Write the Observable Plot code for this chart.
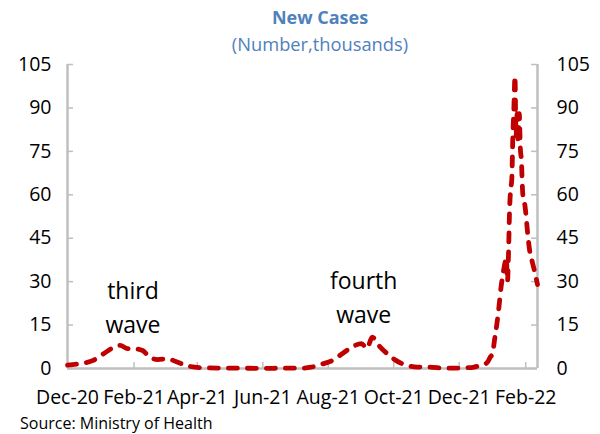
<!DOCTYPE html>
<html><head><meta charset="utf-8">
<script src="https://cdn.jsdelivr.net/npm/d3@7"></script>
<script src="https://cdn.jsdelivr.net/npm/@observablehq/plot@0.6"></script>
<style>
body{margin:0;background:#fff;font-family:"Open Sans",sans-serif;}
#wrap{width:600px;height:434px;position:relative;overflow:hidden;}
.title{color:#4f81bd;text-align:center;font-size:18px;font-weight:bold;height:28px;line-height:28px;padding-top:3px;padding-left:40px;}
.subtitle{color:#4f81bd;text-align:center;font-size:18.3px;height:26px;line-height:26px;padding-left:40px;}
#chart svg{display:block;}
.source{font-size:16px;height:22px;line-height:22px;padding-left:20px;color:#000;}
</style>
</head><body>
<div id="wrap">
  <div class="title">New Cases</div>
  <div class="subtitle">(Number,thousands)</div>
  <div id="chart"></div>
  <div class="source">Source: Ministry of Health</div>
</div>
<script>
// Data (thousands of new cases)
const dates = [
"2020-12-01","2020-12-13","2020-12-25","2021-01-04","2021-01-13","2021-01-19","2021-01-26","2021-02-02","2021-02-09","2021-02-16","2021-02-23","2021-03-04","2021-03-12","2021-03-23","2021-04-04","2021-04-20","2021-05-10","2021-06-01","2021-06-20",
"2021-07-06","2021-07-16","2021-07-27","2021-08-05","2021-08-14","2021-08-24","2021-09-01","2021-09-06","2021-09-11","2021-09-17","2021-09-25","2021-10-03","2021-10-14","2021-10-23",
"2021-11-01","2021-11-20","2021-12-05","2021-12-15","2021-12-20","2021-12-25","2021-12-28","2021-12-30",
"2022-01-01","2022-01-03","2022-01-05","2022-01-07","2022-01-09","2022-01-11","2022-01-13","2022-01-14","2022-01-15","2022-01-16","2022-01-17","2022-01-18","2022-01-19","2022-01-20","2022-01-21","2022-01-22","2022-01-23","2022-01-24","2022-01-25","2022-01-26","2022-01-27","2022-01-28","2022-01-29","2022-01-30","2022-01-31",
"2022-02-01","2022-02-03","2022-02-05","2022-02-07","2022-02-09","2022-02-12"];
const values = [
1.2,1.7,2.8,5.2,7.3,8.0,6.9,6.8,6.2,3.8,3.1,3.4,2.4,0.9,0.3,0.15,0.1,0.05,0.1,
0.1,0.45,1.6,2.8,5.1,7.6,8.6,6.9,10.8,8.0,5.1,2.8,1.0,0.5,
0.5,0.1,0.2,0.5,1.0,1.5,2.5,4,
5,10,15,21,28,33,37,38,30,40,55,62,65,80,90,101,80,88,78,88,76,72,62,58,57,
54,46,40,37,34,29];
const xDomain = ["2020-12-01","2022-02-12"];
const xTicks = ["2020-12-01","2021-02-01","2021-04-01","2021-06-01","2021-08-01","2021-10-01","2021-12-01","2022-02-01"];
const yTicks = [0,15,30,45,60,75,90,105];
const annotations = [
  {label:"third\nwave", date:"2021-01-31", value:21.8},
  {label:"fourth\nwave", date:"2021-09-03", value:25.3}
];

const parse = s => new Date(s + "T00:00:00Z");
const data = dates.map((d,i)=>({date: parse(d), value: values[i]}));
const xDom = xDomain.map(parse);
const xTickDates = xTicks.map(parse);

const W = 600, H = 355, ML = 67, MR = 63, MT = 7, MB = 44;
const PW = W - ML - MR, PH = H - MT - MB;
const axisColor = "#bfbfbf";
const FS = 19.5;

const chart = Plot.plot({
  width: W, height: H,
  marginLeft: ML, marginRight: MR, marginTop: MT, marginBottom: MB,
  style: {fontFamily: "'Open Sans', sans-serif", fontSize: FS + "px", color: "#000", background: "#fff", overflow: "visible"},
  x: {type: "utc", domain: xDom},
  y: {domain: [0, 105]},
  marks: [
    Plot.tickY(yTicks, {y: d => d, insetRight: PW - 6, stroke: axisColor, strokeWidth: 1.5}),
    Plot.tickY(yTicks, {y: d => d, insetLeft: PW - 6, stroke: axisColor, strokeWidth: 1.5}),
    Plot.tickX(xTickDates, {x: d => d, insetTop: PH - 6, stroke: axisColor, strokeWidth: 1.5}),
    Plot.ruleX(xDom, {x: d => d, stroke: axisColor, strokeWidth: 2.5}),
    Plot.ruleY([0], {stroke: axisColor, strokeWidth: 2.5}),
    Plot.axisY({anchor: "left", ticks: yTicks, tickSize: 0, tickPadding: 16, label: null, fontSize: FS}),
    Plot.axisY({anchor: "right", ticks: yTicks, tickSize: 0, tickPadding: 19, label: null, fontSize: FS}),
    Plot.axisX({anchor: "bottom", ticks: xTickDates, tickFormat: d3.utcFormat("%b-%y"), tickSize: 0, tickPadding: 22, label: null, fontSize: FS}),
    Plot.line(data, {x: "date", y: "value", stroke: "#c00000", strokeWidth: 4.8, strokeDasharray: "9,10", strokeLinecap: "round", curve: "monotone-x"}),
    Plot.text(annotations, {x: d => parse(d.date), y: "value", text: "label", fontSize: 23, lineHeight: 1.45, fill: "#000"})
  ]
});
document.getElementById("chart").appendChild(chart);
</script>
</body></html>
